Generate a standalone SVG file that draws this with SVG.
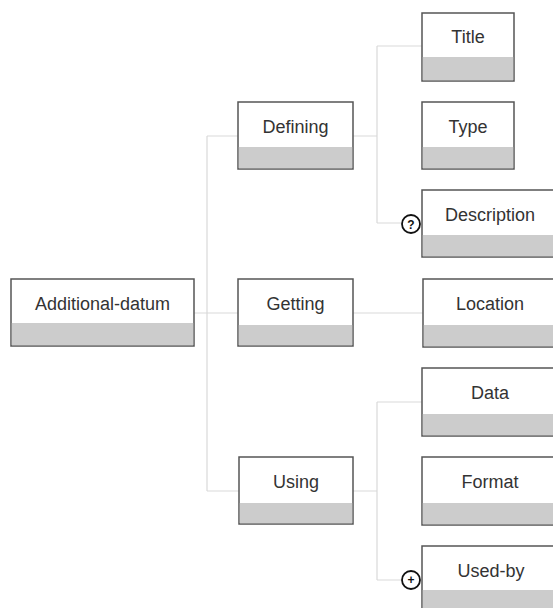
<svg xmlns="http://www.w3.org/2000/svg" width="553" height="608" viewBox="0 0 553 608">
<style>
.box{fill:#ffffff;stroke:#555555;stroke-width:1.5}
.band{fill:#cccccc}
.lbl{font-family:"Liberation Sans",Arial,sans-serif;font-size:18px;fill:#333333;text-anchor:middle}
.conn{fill:none;stroke:#d9d9d9;stroke-width:1.2}
.card{fill:#ffffff;stroke:#111111;stroke-width:1.8}
.cardt{font-family:"Liberation Sans",Arial,sans-serif;font-size:12px;font-weight:bold;fill:#111111;text-anchor:middle}
</style>
<rect width="553" height="608" fill="#ffffff"/>
<g id="connectors">
<path class="conn" d="M194,313 H207 M207,136 V491 M207,136 H238 M207,313 H238 M207,491 H239"/>
<path class="conn" d="M353,136 H377 M377,46 V223 M377,46 H422 M377,223 H403"/>
<path class="conn" d="M353,313 H423"/>
<path class="conn" d="M353,491 H377 M377,402 V580 M377,402 H422 M377,580 H403"/>
</g>
<g id="additional-datum">
<rect class="box" x="11" y="279" width="183" height="67"/>
<rect class="band" x="11.8" y="323" width="181.4" height="22.2"/>
<text class="lbl" x="102.5" y="310">Additional-datum</text>
</g>
<g id="defining">
<rect class="box" x="238" y="102" width="115" height="67"/>
<rect class="band" x="238.8" y="147" width="113.4" height="21.2"/>
<text class="lbl" x="295.5" y="133">Defining</text>
</g>
<g id="getting">
<rect class="box" x="238" y="279" width="115" height="67"/>
<rect class="band" x="238.8" y="325" width="113.4" height="20.2"/>
<text class="lbl" x="295.5" y="310">Getting</text>
</g>
<g id="using">
<rect class="box" x="239" y="457" width="114" height="67"/>
<rect class="band" x="239.8" y="503" width="112.4" height="20.2"/>
<text class="lbl" x="296" y="488">Using</text>
</g>
<g id="title">
<rect class="box" x="422" y="13" width="92" height="68"/>
<rect class="band" x="422.8" y="57" width="90.4" height="23.2"/>
<text class="lbl" x="468" y="43">Title</text>
</g>
<g id="type">
<rect class="box" x="422" y="102" width="92" height="67"/>
<rect class="band" x="422.8" y="147" width="90.4" height="21.2"/>
<text class="lbl" x="468" y="133">Type</text>
</g>
<g id="description">
<rect class="box" x="422" y="190" width="140" height="67"/>
<rect class="band" x="422.8" y="235" width="138.4" height="21.2"/>
<text class="lbl" x="490" y="221">Description</text>
<circle class="card" cx="411" cy="224" r="9"/>
<text class="cardt" x="411" y="228.5">?</text>
</g>
<g id="location">
<rect class="box" x="423" y="279" width="140" height="68"/>
<rect class="band" x="423.8" y="325" width="138.4" height="21.2"/>
<text class="lbl" x="490" y="310">Location</text>
</g>
<g id="data">
<rect class="box" x="422" y="368" width="140" height="68"/>
<rect class="band" x="422.8" y="414" width="138.4" height="21.2"/>
<text class="lbl" x="490" y="399">Data</text>
</g>
<g id="format">
<rect class="box" x="422" y="457" width="140" height="68"/>
<rect class="band" x="422.8" y="503" width="138.4" height="21.2"/>
<text class="lbl" x="490" y="488">Format</text>
</g>
<g id="used-by">
<rect class="box" x="422" y="546" width="140" height="68"/>
<rect class="band" x="422.8" y="590" width="138.4" height="23"/>
<text class="lbl" x="491" y="577">Used-by</text>
<circle class="card" cx="411" cy="580" r="9"/>
<text class="cardt" x="411" y="584">+</text>
</g>
</svg>
